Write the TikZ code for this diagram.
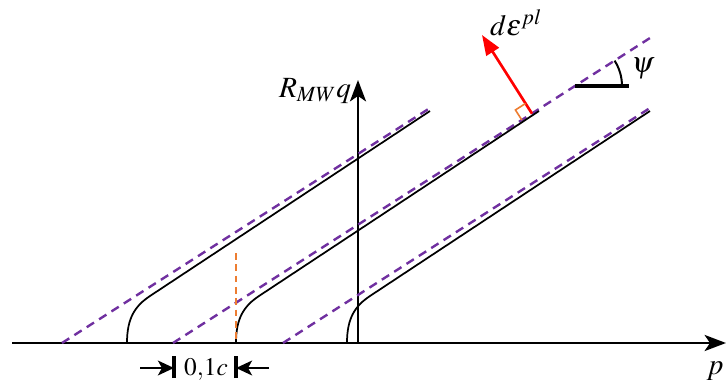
\documentclass[tikz,border=0pt]{standalone}
\usepackage{xcolor}
\usepackage{mathptmx}
\usepackage{tikz}
\usetikzlibrary{arrows.meta,positioning,calc}
\definecolor{plotviolet}{RGB}{112,48,160}
\definecolor{plotorange}{RGB}{237,125,49}

\begin{document}
\begin{tikzpicture}[x=0.75pt,y=0.75pt,
	axis/.style={line width=2pt,-{Stealth[length=16pt,width=12pt,inset=4pt]}},
	yieldline/.style={line width=1.3pt},
	potline/.style={plotviolet,line width=1.8pt,dash pattern=on 6.5pt off 4.5pt},
	dimarrow/.style={line width=2pt,-{Stealth[length=12pt,width=11pt,inset=3pt]}},
	lbl/.style={font=\fontsize{22}{26}\selectfont}]
			\useasboundingbox (0,0) rectangle (726,383);

			% ---------------- Axes ----------------
			\coordinate (O) at (358,40);
			\coordinate (X0) at (12,40);
			\coordinate (X1) at (726,40);
			\coordinate (Y1) at (358,303);
			\draw[axis] (X0) -- (X1);
			\draw[axis] (O) -- (Y1);
			\node[lbl] (qlab) at (315,292) {$R_{MW}q$};
			\node[lbl] (plab) at (715,12) {$p$};

			% ---------------- Plastic potentials (dashed) ----------------
			\coordinate (G1a) at (62,40);  \coordinate (G1b) at (430,275);
			\coordinate (G2a) at (173,40); \coordinate (G2b) at (650,345);
			\coordinate (G3a) at (283,40); \coordinate (G3b) at (650,275);
			\draw[potline] (G1a) -- (G1b);
			\draw[potline] (G2a) -- (G2b);
			\draw[potline] (G3a) -- (G3b);

			% ---------------- Yield surfaces ----------------
			\draw[yieldline] (127,40) .. controls (127,65) and (135,77) .. (150,87) -- (430,272);
			\draw[yieldline] (236,40) .. controls (236,65) and (244,77) .. (259,87) -- (539,272);
			\draw[yieldline] (347,40) .. controls (347,65) and (355,77) .. (370,87) -- (650,272);

			% offset marker
			\coordinate (C2) at (236,40);
			\coordinate (C2t) at (236,130);
			\draw[plotorange,line width=1.4pt,dash pattern=on 5pt off 3.5pt] (C2t) -- (C2);

			% ---------------- Flow direction ----------------
			\coordinate (B) at (532,269.4);
			\coordinate (T) at (482,348);
			\draw[red,line width=2pt,-{Triangle[length=15pt,width=11pt]}] (B) -- (T);
			\draw[plotorange,line width=1.2pt] ([shift={(212.6:12)}]B) -- ++(122.6:12) -- ++(32.6:12);
			\node[lbl] (deps) at (516,360) {$d\varepsilon^{pl}$};

			% ---------------- Dilatancy angle ----------------
			\coordinate (P) at (575,297);
			\coordinate (Ph) at (629,297);
			\draw[line width=2.5pt] (P) -- (Ph);
			\draw[line width=1.5pt] (622,297) arc[start angle=0,end angle=32.6,radius=47];
			\node[lbl] (psi) at (643,314) {$\mathit{\psi}$};

			% ---------------- Dimension 0,1c ----------------
			\coordinate (D1) at (174,15);
			\coordinate (D2) at (236,15);
			\draw[line width=2.5pt] (174,5) -- (174,27);
			\draw[line width=2.5pt] (236,5) -- (236,27);
			\draw[dimarrow] (140,15) -- (D1);
			\draw[dimarrow] (269,15) -- (D2);
			\node[lbl,font=\fontsize{19}{22}\selectfont] (dim) at (206,14) {$0{,}1c$};
		\end{tikzpicture}
\end{document}
